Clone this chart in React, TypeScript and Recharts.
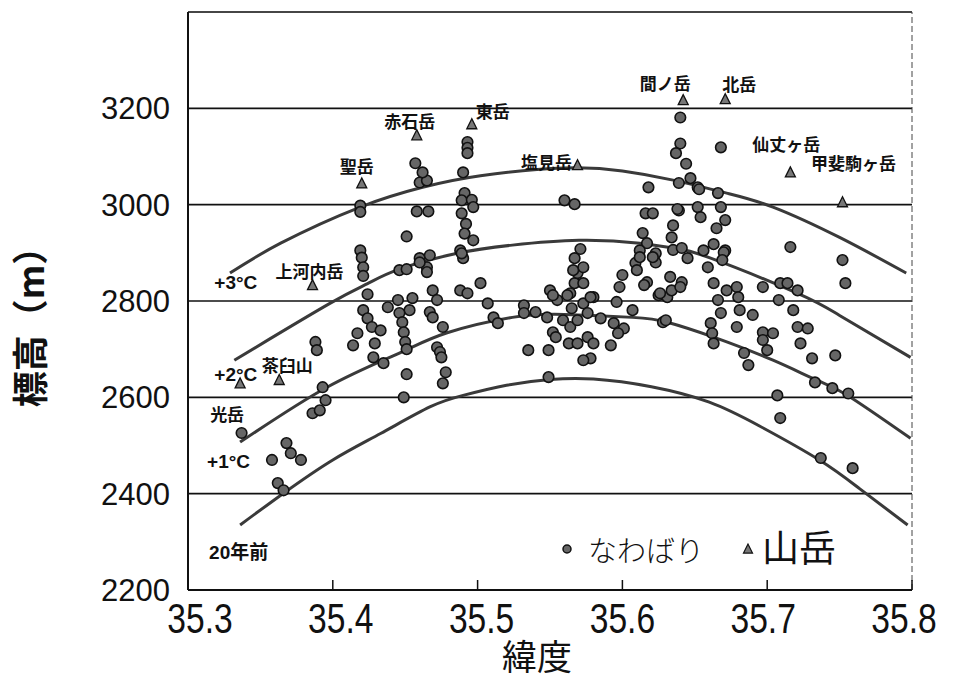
import { CartesianGrid, ComposedChart, Line, ReferenceLine, Scatter, XAxis, YAxis } from "recharts";

const LAT_TICKS = [35.3, 35.4, 35.5, 35.6, 35.7, 35.8];
const ELEV_TICKS = [2200, 2400, 2600, 2800, 3000, 3200];

// なわばり (lat, elev)
const TERRITORIES: [number, number][] = [
  [35.337, 2526], [35.358, 2470], [35.368, 2505], [35.371, 2484], [35.378, 2470], [35.362, 2422], [35.366, 2407],
  [35.386, 2567], [35.391, 2573], [35.393, 2621], [35.395, 2594], [35.388, 2715], [35.389, 2698],
  [35.414, 2708], [35.417, 2733], [35.421, 2781], [35.424, 2764], [35.427, 2746], [35.433, 2739], [35.429, 2712],
  [35.428, 2683], [35.435, 2671], [35.438, 2787], [35.424, 2814], [35.419, 2905], [35.42, 2890], [35.421, 2870],
  [35.421, 2852], [35.419, 2998], [35.419, 2985],
  [35.445, 2802], [35.453, 2781], [35.455, 2806], [35.446, 2775], [35.448, 2756], [35.449, 2735], [35.45, 2715],
  [35.451, 2700], [35.451, 2648], [35.449, 2600], [35.446, 2864], [35.451, 2866], [35.46, 2889], [35.465, 2870],
  [35.467, 2895], [35.46, 2880], [35.465, 2860], [35.451, 2934], [35.458, 2986], [35.466, 2986], [35.46, 3046],
  [35.465, 3050], [35.462, 3067], [35.457, 3086], [35.467, 2777], [35.469, 2766], [35.469, 2822], [35.472, 2802],
  [35.476, 2746], [35.472, 2704], [35.474, 2694], [35.475, 2683], [35.478, 2652], [35.476, 2629],
  [35.493, 3130], [35.493, 3118], [35.493, 3107], [35.49, 3067], [35.491, 3024], [35.489, 3009], [35.496, 3010],
  [35.497, 2995], [35.489, 2982], [35.492, 2960], [35.491, 2940], [35.497, 2926], [35.488, 2905], [35.49, 2889],
  [35.489, 2899], [35.502, 2837], [35.488, 2822], [35.493, 2816], [35.507, 2795],
  [35.511, 2766], [35.514, 2754], [35.532, 2791], [35.532, 2775], [35.54, 2777], [35.535, 2698], [35.549, 2698],
  [35.549, 2642],
  [35.55, 2822], [35.555, 2802], [35.564, 2816], [35.567, 2837], [35.569, 2858], [35.573, 2870], [35.571, 2908],
  [35.567, 2889], [35.548, 2766], [35.552, 2735], [35.554, 2725], [35.559, 2760], [35.564, 2746], [35.565, 2785],
  [35.569, 2760], [35.573, 2795], [35.58, 2808], [35.576, 2775], [35.585, 2764], [35.594, 2754], [35.601, 2743],
  [35.597, 2733], [35.563, 2712], [35.569, 2712], [35.576, 2725], [35.58, 2712], [35.578, 2681], [35.573, 2677],
  [35.592, 2708], [35.56, 3009], [35.567, 3001], [35.552, 2812], [35.566, 2864], [35.573, 2837], [35.562, 2812],
  [35.578, 2808],
  [35.598, 2829], [35.6, 2854], [35.596, 2798], [35.607, 2781], [35.609, 2879], [35.61, 2864], [35.617, 2839],
  [35.614, 2941], [35.617, 2920], [35.612, 2905], [35.616, 2982], [35.621, 2982], [35.618, 3036], [35.623, 2899],
  [35.623, 2880], [35.625, 2812], [35.631, 2808], [35.633, 2850], [35.634, 2822], [35.628, 2756], [35.634, 2932],
  [35.635, 2906], [35.639, 2988], [35.635, 2957], [35.641, 2910], [35.641, 2839], [35.645, 2889], [35.652, 2995],
  [35.654, 2974], [35.656, 2905], [35.665, 2951], [35.663, 2918], [35.671, 2905], [35.666, 3024], [35.668, 2995],
  [35.659, 2870], [35.663, 2837], [35.666, 2802], [35.668, 2775], [35.661, 2754], [35.662, 2733], [35.663, 2712],
  [35.652, 3036], [35.671, 2968], [35.67, 2901], [35.672, 2822], [35.669, 2885],
  [35.64, 3181], [35.64, 3127], [35.637, 3107], [35.644, 3085], [35.647, 3055], [35.639, 3045], [35.653, 3032],
  [35.668, 3119], [35.638, 2991], [35.612, 2891], [35.621, 2891], [35.615, 2833], [35.64, 2829], [35.626, 2816],
  [35.63, 2760],
  [35.679, 2829], [35.68, 2808], [35.681, 2781], [35.69, 2771], [35.679, 2746], [35.697, 2829], [35.709, 2837],
  [35.721, 2822], [35.714, 2837], [35.708, 2802], [35.697, 2735], [35.697, 2719], [35.704, 2733], [35.718, 2781],
  [35.721, 2746], [35.728, 2743], [35.723, 2712], [35.731, 2681], [35.747, 2687], [35.7, 2698], [35.684, 2692],
  [35.687, 2667], [35.716, 2912], [35.752, 2885], [35.754, 2837], [35.733, 2631], [35.745, 2619], [35.756, 2608],
  [35.707, 2604], [35.709, 2557], [35.737, 2474], [35.759, 2453],
];

const MOUNTAIN_NAMES = ["聖岳", "赤石岳", "東岳", "塩見岳", "間ノ岳", "北岳", "仙丈ヶ岳", "甲斐駒ヶ岳", "上河内岳", "茶臼山", "光岳"];
const MOUNTAIN_LAT = [35.42, 35.458, 35.496, 35.569, 35.642, 35.671, 35.716, 35.752, 35.386, 35.363, 35.336];
const MOUNTAIN_ELEV = [3044, 3144, 3167, 3082, 3217, 3219, 3067, 3005, 2833, 2636, 2629];

// isotherm-shift curves, points
const CURVE_20Y: [number, number][] = [
  [35.336, 2335], [35.366, 2401], [35.4, 2470], [35.433, 2525], [35.467, 2580], [35.49, 2604], [35.52, 2625],
  [35.55, 2637], [35.58, 2638], [35.62, 2622], [35.66, 2590], [35.695, 2540], [35.736, 2470], [35.764, 2410],
  [35.797, 2335],
];
const CURVE_1C: [number, number][] = [
  [35.336, 2507], [35.396, 2621], [35.446, 2692], [35.479, 2734], [35.524, 2766], [35.56, 2772],
  [35.607, 2766], [35.631, 2756], [35.663, 2725], [35.704, 2677], [35.734, 2636], [35.755, 2605], [35.799, 2515],
];
const CURVE_2C: [number, number][] = [
  [35.332, 2677], [35.398, 2795], [35.424, 2836], [35.446, 2866], [35.486, 2899], [35.524, 2916], [35.57, 2926],
  [35.612, 2920], [35.635, 2910], [35.66, 2890], [35.721, 2816], [35.75, 2770], [35.799, 2683],
];
const CURVE_3C: [number, number][] = [
  [35.329, 2858], [35.364, 2920], [35.419, 2995], [35.462, 3036], [35.502, 3060], [35.56, 3076],
  [35.6, 3070], [35.635, 3051], [35.672, 3024], [35.704, 2995], [35.75, 2932], [35.796, 2858],
];

const CURVE_TEXT = ["+3°C", "+2°C", "+1°C", "20年前"];
const CURVE_TEXT_LAT = [35.333, 35.333, 35.328, 35.335];
const CURVE_TEXT_ELEV = [2838, 2648, 2466, 2277];

// label offsets (px) from each mountain marker
const LABEL_OFFSET: Record<string, [number, number]> = {
  聖岳: [-5, -18],
  赤石岳: [-7, -15],
  東岳: [21, -14],
  塩見岳: [-31, -4],
  間ノ岳: [-18, -18],
  北岳: [14, -16],
  仙丈ヶ岳: [-4, -29],
  甲斐駒ヶ岳: [11, -40],
  上河内岳: [-3, -15],
  茶臼山: [8, -15],
  光岳: [-13, 30],
};

const toPts = (arr: [number, number][]) => arr.map(([lat, elev]) => ({ lat, elev }));

const territoryData = toPts(TERRITORIES);
const mountainData = MOUNTAIN_NAMES.map((name, i) => ({ name, lat: MOUNTAIN_LAT[i], elev: MOUNTAIN_ELEV[i] }));
const curveTextData = CURVE_TEXT.map((text, i) => ({ text, lat: CURVE_TEXT_LAT[i], elev: CURVE_TEXT_ELEV[i] }));

const JP = "'Noto Sans CJK JP', 'Noto Sans', sans-serif";
const SANS = "'Liberation Sans', Arial, sans-serif";
const CURVE_COLOR = "#3a3a3a";

const tri = (cx: number, cy: number, s: number) =>
  `${cx},${cy - s * 0.55} ${cx - s / 2},${cy + s * 0.45} ${cx + s / 2},${cy + s * 0.45}`;

const Dot = (props: any) => (
  <circle cx={props.cx} cy={props.cy} r={5.3} fill="#666" stroke="#111" strokeWidth={1.6} />
);

const Mountain = (props: any) => {
  const { cx, cy, payload } = props;
  const [dx, dy] = LABEL_OFFSET[payload.name] ?? [0, -15];
  return (
    <g>
      <polygon points={tri(cx, cy, 10)} fill="#777" stroke="#111" strokeWidth={1.3} />
      <text
        x={cx + dx}
        y={cy + dy}
        textAnchor="middle"
        dominantBaseline="central"
        fontFamily={JP}
        fontWeight={700}
        fontSize={17}
        fill="#111"
      >
        {payload.name}
      </text>
    </g>
  );
};

const CurveText = (props: any) => (
  <text
    x={props.cx}
    y={props.cy}
    textAnchor="middle"
    dominantBaseline="central"
    fontFamily={`'Liberation Sans', ${JP}`}
    fontWeight={700}
    fontSize={19}
    fill="#111"
  >
    {props.payload.text}
  </text>
);

const LatTick = (props: any) => {
  const { x, y, payload } = props;
  const shift = 12 - (payload.value - 35.3) * 40;
  return (
    <g>
      <line x1={x} x2={x} y1={y} y2={y - 10} stroke="#111" strokeWidth={1.5} />
      <text
        transform={`translate(${x + shift},${y + 43}) scale(0.8,1)`}
        textAnchor="middle"
        fontFamily={SANS}
        fontSize={42}
        fill="#111"
      >
        {payload.value.toFixed(1)}
      </text>
    </g>
  );
};

export default function App() {
  return (
    <div style={{ position: "absolute", left: 0, top: 0, width: 959, height: 684, background: "#fff" }}>
      <ComposedChart width={959} height={684} margin={{ top: 12, right: 47, bottom: 34, left: 0 }}>
        <CartesianGrid vertical={false} stroke="#111" strokeWidth={1.6} />
        <XAxis
          type="number"
          dataKey="lat"
          domain={[35.3, 35.8]}
          ticks={LAT_TICKS}
          allowDataOverflow
          height={60}
          tickSize={0}
          tickMargin={0}
          tickLine={false}
          axisLine={{ stroke: "#111", strokeWidth: 2 }}
          tick={<LatTick />}
          label={() => (
            <text x={537} y={654} textAnchor="middle" dominantBaseline="central" fontFamily={JP} fontSize={35} fill="#111">
              緯度
            </text>
          )}
        />
        <YAxis
          type="number"
          dataKey="elev"
          domain={[2200, 3400]}
          ticks={ELEV_TICKS}
          allowDataOverflow
          width={188}
          tickLine={false}
          tickSize={0}
          tickMargin={18}
          axisLine={{ stroke: "#111", strokeWidth: 2 }}
          tick={{ fontFamily: SANS, fontSize: 31, fill: "#111" }}
          label={() => (
            <text
              transform="translate(44,318) rotate(-90)"
              textAnchor="middle"
              fontFamily={JP}
              fontWeight={700}
              fontSize={36}
              fill="#111"
            >
              標高（m）
            </text>
          )}
        />
        <ReferenceLine y={3400} stroke="#444" strokeWidth={1.4} />
        <ReferenceLine x={35.8} stroke="#444" strokeWidth={1} strokeDasharray="6 3" />

        {[CURVE_20Y, CURVE_1C, CURVE_2C, CURVE_3C].map((c, i) => (
          <Line
            key={i}
            data={toPts(c)}
            dataKey="elev"
            type="natural"
            stroke={CURVE_COLOR}
            strokeWidth={3}
            dot={false}
            activeDot={false}
            isAnimationActive={false}
          />
        ))}

        <Scatter data={territoryData} dataKey="elev" shape={<Dot />} isAnimationActive={false} />
        <Scatter data={mountainData} dataKey="elev" shape={<Mountain />} isAnimationActive={false} />
        <Scatter data={curveTextData} dataKey="elev" shape={<CurveText />} isAnimationActive={false} />
      </ComposedChart>

      <svg width={959} height={684} style={{ position: "absolute", left: 0, top: 0, pointerEvents: "none" }}>
        <circle cx={567} cy={549} r={4} fill="#666" stroke="#111" strokeWidth={1.5} />
        <text x={588} y={549} dominantBaseline="central" fontFamily={JP} fontWeight={300} fontSize={29} fill="#111">
          なわばり
        </text>
        <polygon points={tri(748, 549, 9)} fill="#777" stroke="#111" strokeWidth={1.2} />
        <text x={762} y={546} dominantBaseline="central" fontFamily={JP} fontSize={37} fill="#111">
          山岳
        </text>
      </svg>
    </div>
  );
}
